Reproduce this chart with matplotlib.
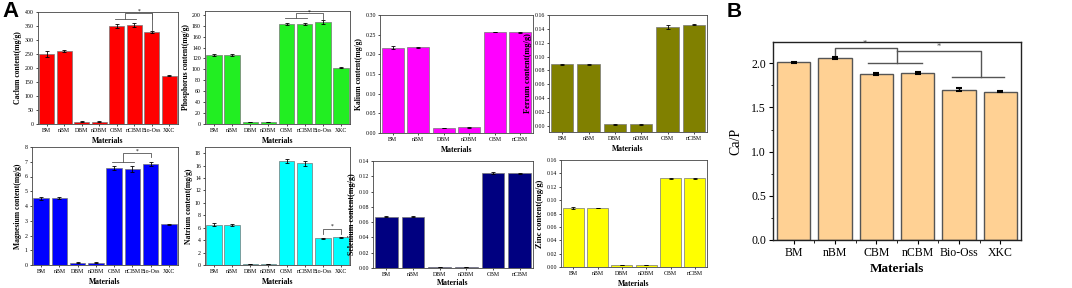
import matplotlib
matplotlib.use('Agg')
import matplotlib.pyplot as plt
import numpy as np

plt.rcParams['font.family'] = 'Liberation Serif'

# ---- data ----
cats8 = ['BM', 'nBM', 'DBM', 'nDBM', 'CBM', 'nCBM', 'Bio-Oss', 'XKC']
cats6 = ['BM', 'nBM', 'DBM', 'nDBM', 'CBM', 'nCBM']
cats_b = ['BM', 'nBM', 'CBM', 'nCBM', 'Bio-Oss', 'XKC']

calcium = [250, 260, 8, 8, 350, 353, 328, 172]
calcium_err = [10, 3, 1, 1, 8, 8, 4, 2]
phosphorus = [127, 126, 4, 4, 183, 183, 187, 103]
phosphorus_err = [2, 2, 0.5, 0.5, 2, 2, 3, 1]
kalium = [0.217, 0.218, 0.013, 0.014, 0.257, 0.256]
kalium_err = [0.003, 0.001, 0.0005, 0.0005, 0.001, 0.001]
ferrum = [0.089, 0.089, 0.002, 0.002, 0.143, 0.146]
ferrum_err = [0.0005, 0.0005, 0.0003, 0.0003, 0.003, 0.001]
magnesium = [4.52, 4.55, 0.15, 0.15, 6.57, 6.52, 6.85, 2.77]
magnesium_err = [0.12, 0.07, 0.02, 0.02, 0.15, 0.2, 0.12, 0.04]
natrium = [6.5, 6.45, 0.2, 0.2, 16.8, 16.4, 4.3, 4.45]
natrium_err = [0.25, 0.15, 0.03, 0.03, 0.3, 0.4, 0.1, 0.1]
selenium = [0.067, 0.067, 0.001, 0.001, 0.124, 0.124]
selenium_err = [0.0005, 0.0005, 0.0002, 0.0002, 0.001, 0.0008]
zinc = [0.088, 0.088, 0.003, 0.003, 0.133, 0.133]
zinc_err = [0.001, 0.0005, 0.0003, 0.0003, 0.0008, 0.0008]
ca_p = [2.01, 2.06, 1.88, 1.89, 1.70, 1.68]
ca_p_err = [0.005, 0.01, 0.01, 0.012, 0.015, 0.003]

W, H = 1072, 288
fig = plt.figure(figsize=(W / 100, H / 100), dpi=100)
fig.patch.set_facecolor('white')


def px_axes(l, t, r, b):
    return fig.add_axes([l / W, 1 - b / H, (r - l) / W, (b - t) / H])


def panel(box, cats, vals, errs, color, ylabel, ylim, yticks, ylsize=5.5,
          xlpad=2.5, ylpad=2, base=0.0):
    ax = px_axes(*box)
    x = np.arange(len(cats))
    v = np.array(vals)
    ax.bar(x, v - base, bottom=base, width=0.85, color=color,
           edgecolor='#777777', linewidth=0.5, zorder=2)
    ax.errorbar(x, v, yerr=errs, fmt='none', ecolor='black',
                elinewidth=0.6, capsize=1.2, capthick=0.6, zorder=3)
    ax.set_xlim(-0.5, len(cats) - 0.5)
    ax.set_ylim(*ylim)
    ax.set_yticks(yticks)
    ax.set_xticks(x)
    ax.set_xticklabels(cats)
    ax.tick_params(labelsize=4.2, length=1.5, width=0.5, pad=1.5)
    ax.set_ylabel(ylabel, fontsize=ylsize, fontweight='bold', labelpad=ylpad)
    ax.set_xlabel('Materials', fontsize=5.5, fontweight='bold', labelpad=xlpad)
    for s in ax.spines.values():
        s.set_linewidth(0.6)
        s.set_color('#444444')
    return ax


def bracket(ax, x1, x2, y1, y2, lw=0.6, color='#555555'):
    ax.plot([x1, x1, x2, x2], [y1, y2, y2, y1], color=color, lw=lw, zorder=4)


# ---- top row ----
ax = panel((38, 12, 178, 124), cats8, calcium, calcium_err, '#FF0000',
           'Caclum content(mg/g)', (0, 400), np.arange(0, 401, 50))
ax.plot([3.9, 5.1], [375, 375], color='#555555', lw=0.6)
bracket(ax, 4.5, 6, 375, 396)
ax.plot([6, 6], [396, 336], color='#555555', lw=0.6)
ax.text(5.25, 394, '*', fontsize=4, ha='center', va='bottom')

ax = panel((205, 11, 350, 124), cats8, phosphorus, phosphorus_err, '#22EE22',
           'Phosphorus content(mg/g)', (0, 207), np.arange(0, 201, 20),
           ylpad=1.5)
ax.plot([3.9, 5.1], [194, 194], color='#555555', lw=0.6)
ax.plot([4.5, 4.5, 6, 6], [194, 203, 203, 192], color='#555555', lw=0.6)
ax.text(5.25, 201, '*', fontsize=4, ha='center', va='bottom')

panel((380, 15, 533, 133), cats6, kalium, kalium_err, '#FF00FF',
      'Kalium content(mg/g)', (0, 0.30), np.arange(0, 0.301, 0.05),
      ylsize=5.5, xlpad=3)

panel((549, 15, 707, 132), cats6, ferrum, ferrum_err, '#808000',
      'Ferrum content(mg/g)', (-0.009, 0.16), np.arange(0, 0.161, 0.02),
      ylsize=6.0, xlpad=2.5, ylpad=2, base=-0.009)

# ---- bottom row ----
ax = panel((32, 147, 178, 265), cats8, magnesium, magnesium_err, '#0000FF',
           'Magnesium content(mg/g)', (0, 8), np.arange(0, 9, 1))
ax.plot([3.9, 5.1], [6.98, 6.98], color='#555555', lw=0.6)
ax.plot([4.5, 4.5, 6, 6], [6.98, 7.6, 7.6, 7.3], color='#555555', lw=0.6)
ax.text(5.25, 7.55, '*', fontsize=4, ha='center', va='bottom')

ax = panel((205, 147, 350, 265), cats8, natrium, natrium_err, '#00FFFF',
           'Natrium content(mg/g)', (0, 19), np.arange(0, 19, 2), ylpad=1.5)
bracket(ax, 6, 7, 5.0, 5.8)
ax.text(6.5, 5.9, '*', fontsize=4, ha='center', va='bottom')

panel((373, 161, 533, 268), cats6, selenium, selenium_err, '#000080',
      'Selenium content(mg/g)', (0, 0.14), np.arange(0, 0.141, 0.02),
      ylsize=5.8, xlpad=1.5, ylpad=2)

panel((561, 160, 707, 267), cats6, zinc, zinc_err, '#FFFF00',
      'Zinc content(mg/g)', (0, 0.16), np.arange(0, 0.161, 0.02),
      ylsize=6, xlpad=2.5, ylpad=1.5)

# ---- panel B ----
axb = px_axes(773, 42, 1021, 240)
xb = np.arange(len(cats_b))
axb.bar(xb, ca_p, width=0.8, color='#FFD194', edgecolor='#555555',
        linewidth=1.0, zorder=2)
axb.errorbar(xb, ca_p, yerr=ca_p_err, fmt='none', ecolor='black',
             elinewidth=1.0, capsize=2.5, capthick=1.5, zorder=3)
axb.set_xlim(-0.5, len(cats_b) - 0.5)
axb.set_ylim(0, 2.24)
axb.set_yticks(np.arange(0, 2.01, 0.5))
axb.set_yticks(np.arange(0.25, 2.24, 0.5), minor=True)
axb.set_xticks(xb)
axb.set_xticks(xb[:-1] + 0.5, minor=True)
axb.set_xticklabels(cats_b)
axb.tick_params(which='major', labelsize=8.5, length=3, width=0.8, pad=2)
axb.tick_params(which='minor', length=1.8, width=0.6)
axb.set_ylabel('Ca/P', fontsize=10, labelpad=6)
axb.set_xlabel('Materials', fontsize=9.5, fontweight='bold', labelpad=3)
for s in axb.spines.values():
    s.set_linewidth(1.0)
    s.set_color('#222222')
# significance brackets
axb.plot([1, 1, 2.5, 2.5], [2.07, 2.17, 2.17, 2.0], color='#555555', lw=1.0)
axb.plot([1.8, 3.1], [2.0, 2.0], color='#555555', lw=1.0)
axb.plot([2.5, 4.53, 4.53], [2.135, 2.135, 1.84], color='#555555', lw=1.0)
axb.plot([3.83, 5.1], [1.84, 1.84], color='#555555', lw=1.0)
axb.text(1.73, 2.17, '*', fontsize=6, ha='center', va='bottom', color='#444444')
axb.text(3.5, 2.14, '*', fontsize=6, ha='center', va='bottom', color='#444444')

fig.text(2 / W, 1 - 1 / H, 'A', family='Liberation Sans', fontweight='bold',
         fontsize=16, ha='left', va='top')
fig.text(727 / W, 1 - 2 / H, 'B', family='Liberation Sans', fontweight='bold',
         fontsize=15, ha='left', va='top')

fig.savefig('out.png', dpi=100, facecolor='white')
